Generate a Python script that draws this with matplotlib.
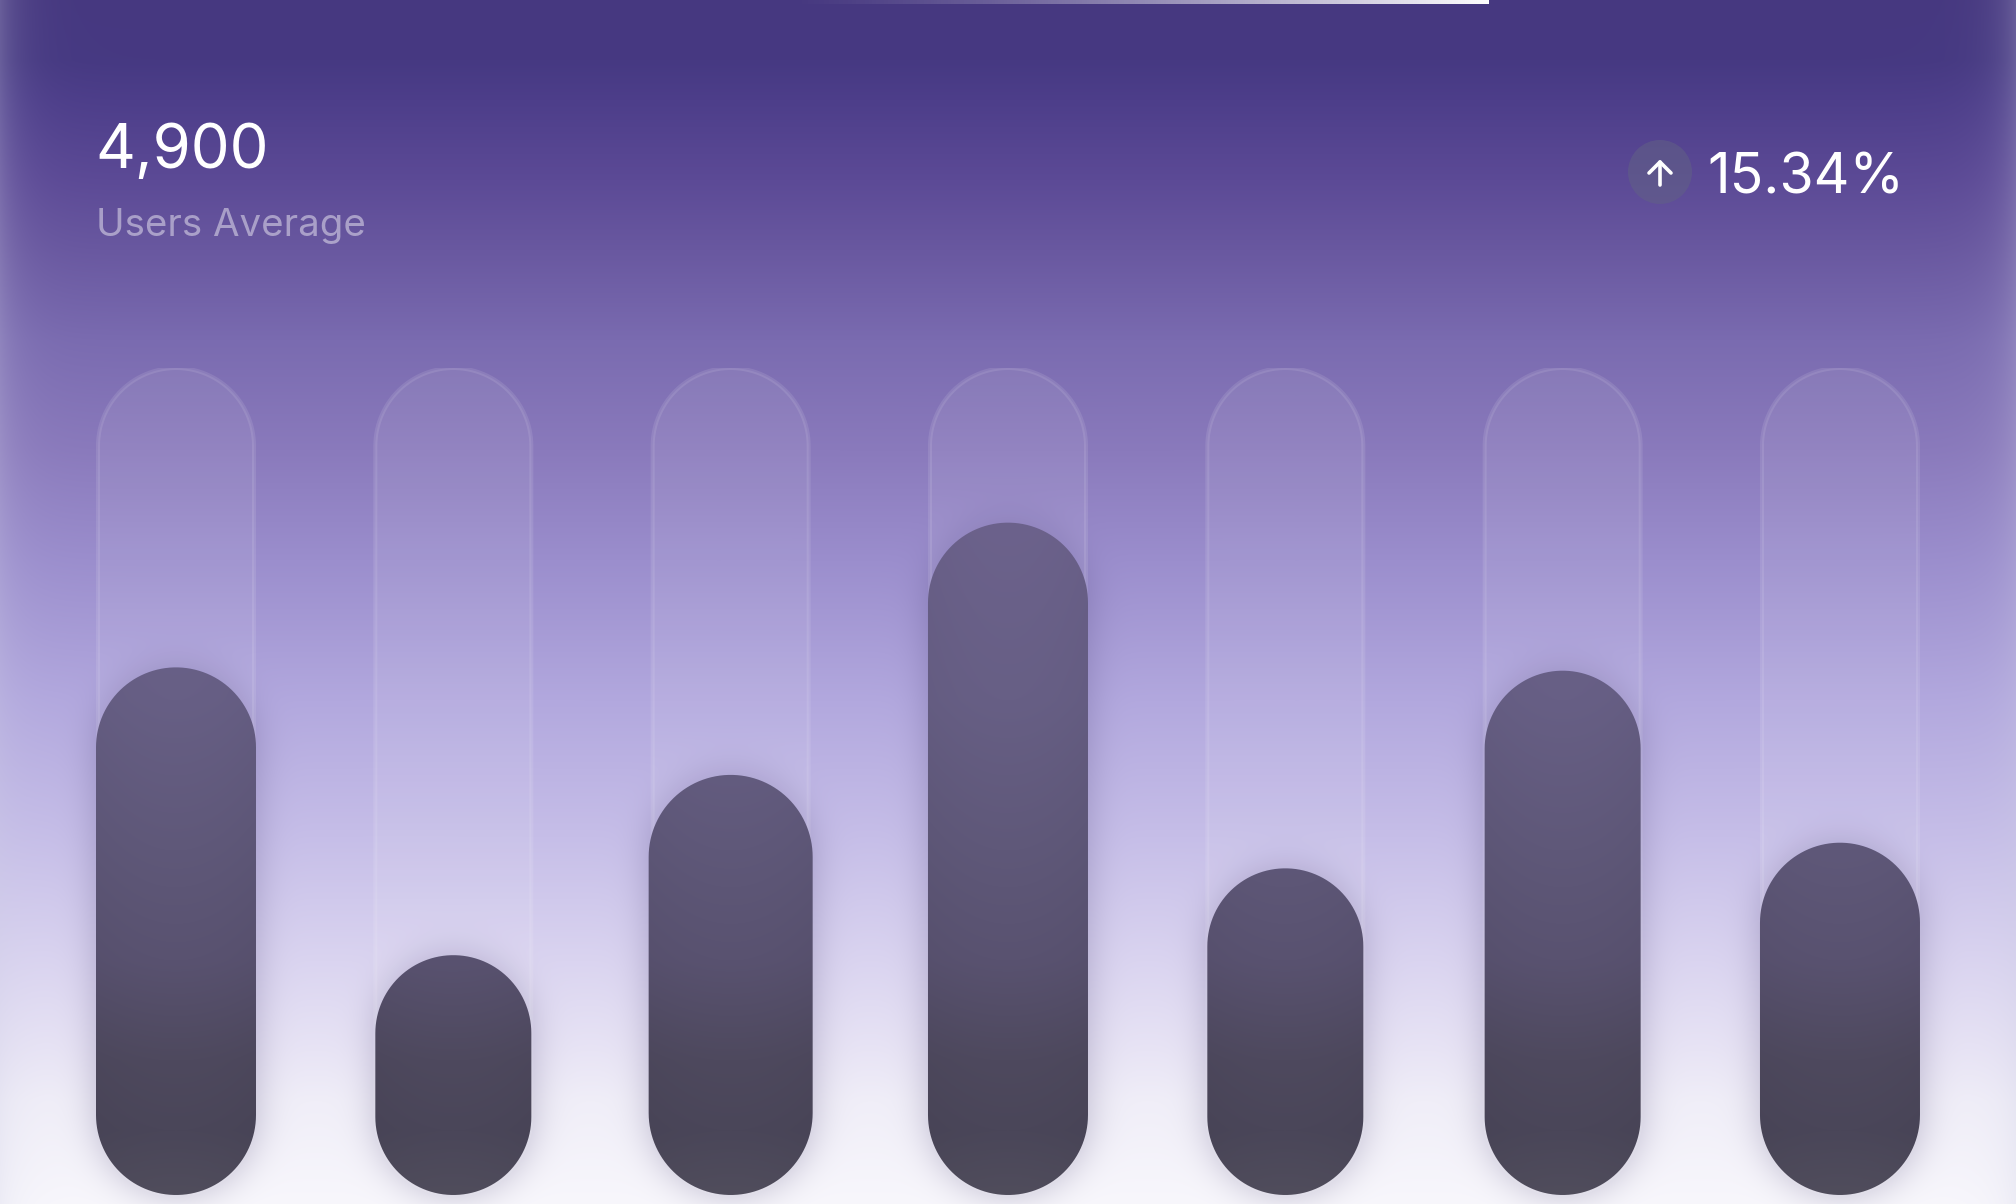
import numpy as np
import matplotlib
matplotlib.use('Agg')
import matplotlib.pyplot as plt
from matplotlib.patches import PathPatch, Circle
from matplotlib.path import Path

plt.rcParams['font.family'] = ['Inter', 'DejaVu Sans']

# the data
days = [0, 1, 2, 3, 4, 5, 6]
users_pct = [63.8, 29.0, 50.8, 81.3, 39.5, 63.4, 42.6]
track_pct = [100, 100, 100, 100, 100, 100, 100]
headline = '4,900'
headline_label = 'Users Average'
change_label = '15.34%'

# style, all in pixels of the 2016x1204 picture
W, H = 2016, 1204
bar_widths = [160, 156, 164, 160, 156, 156, 160]
track_width = 160
base_px, top_px = 1195, 368
first_center, pitch = 176, 277.33

bg_y = [0, 60, 100, 180, 250, 340, 450, 560, 700, 836, 960, 1050, 1100, 1204]
bg_r = [70, 70, 77, 92, 105, 122, 138, 155, 178, 198, 218, 232, 240, 248]
bg_g = [56, 57, 62, 74, 88, 107, 122, 142, 168, 190, 212, 228, 238, 247]
bg_b = [128, 130, 138, 150, 160, 176, 188, 205, 222, 232, 240, 245, 248, 252]

bar_y = [520, 700, 850, 960, 1060, 1130, 1195]
bar_r = [108, 103, 95, 89, 78, 74, 80]
bar_g = [98, 95, 88, 82, 73, 70, 77]
bar_b = [140, 133, 121, 112, 94, 89, 92]


def blur(a, sigma):
    # gaussian blur through fft, no scipy here
    pad = 120
    p = np.pad(a, pad)
    fy = np.fft.fftfreq(p.shape[0])[:, None]
    fx = np.fft.rfftfreq(p.shape[1])[None, :]
    g = np.exp(-2 * (np.pi * sigma) ** 2 * (fx ** 2 + fy ** 2))
    out = np.fft.irfft2(np.fft.rfft2(p) * g, s=p.shape)
    return out[pad:-pad, pad:-pad]


fig = plt.figure(figsize=(W / 100, H / 100), dpi=100)

# pixel axes for the backdrop and the header
bg = fig.add_axes([0, 0, 1, 1], zorder=0)
bg.set_xlim(0, W)
bg.set_ylim(H, 0)
bg.axis('off')

# chart axes, x in day index and y in percent
ax = fig.add_axes([0, (H - base_px) / H, 1, (base_px - top_px) / H], zorder=1)
ax.set_xlim(-first_center / pitch, (W - first_center) / pitch)
ax.set_ylim(0, 100)
ax.axis('off')
ax.patch.set_alpha(0)

ky = (base_px - top_px) / 100


def pill(day, value, width_px):
    # capsule outline in data coordinates
    rx = width_px / 2 / pitch
    ry = width_px / 2 / ky
    t = np.linspace(0, np.pi, 60)
    xs = np.concatenate([day + rx * np.cos(t), day - rx * np.cos(t), [day + rx]])
    ys = np.concatenate([value - ry + ry * np.sin(t), ry - ry * np.sin(t), [value - ry]])
    return Path(np.column_stack([xs, ys]), closed=True)


# backdrop
yy = np.arange(H)
xx = np.arange(W)
rgb = np.stack([np.interp(yy, bg_y, c) for c in (bg_r, bg_g, bg_b)], axis=1)[:, None, :]
rgb = np.repeat(rgb, W, axis=1)

# soft light on the left and right side
d = np.minimum(xx, W - 1 - xx)
edge = (0.25 * np.exp(-d / 20.0))[None, :, None]
rgb = rgb * (1 - edge) + np.array([205, 205, 228]) * edge

# halo around the bars
X, Y = np.meshgrid(xx, yy)
mask = np.zeros((H, W))
for day, v, bw in zip(days, users_pct, bar_widths):
    cx, top = ax.transData.transform((day, v))
    top = H - top
    r = bw / 2
    cy = np.clip(Y, top + r, base_px - r)
    mask = np.maximum(mask, (np.hypot(X - cx, Y - cy) <= r).astype(float))
halo = (np.clip(blur(mask, 18), 0, 1) * 0.30)[:, :, None]
rgb = rgb * (1 - halo) + np.array([62, 52, 104]) * halo

bg.imshow(rgb / 255, extent=(0, W, H, 0), aspect='auto', interpolation='bilinear')
bg.set_xlim(0, W)
bg.set_ylim(H, 0)

# thin light strip on the top edge
strip = np.zeros((1, 400, 4))
strip[..., :3] = 1
strip[..., 3] = np.linspace(0, 1, 400) ** 1.3
bg.imshow(strip, extent=(784, 1489, 4, 0), aspect='auto')
bg.set_xlim(0, W)
bg.set_ylim(H, 0)

# tracks behind the bars
for day, v in zip(days, track_pct):
    ax.add_patch(PathPatch(pill(day, v, track_width - 4), facecolor=(1, 1, 1, 0.08),
                           edgecolor=(1, 1, 1, 0.10), lw=2.9, zorder=1))

# bars, same colour ramp for each and cut to the pill
ramp = np.stack([np.interp(yy, bar_y, c) for c in (bar_r, bar_g, bar_b)], axis=1)[:, None, :] / 255
y_ext = ax.get_ylim()
for day, v, bw in zip(days, users_pct, bar_widths):
    patch = PathPatch(pill(day, v, bw), facecolor='none', edgecolor='none', zorder=2)
    ax.add_patch(patch)
    # image a bit wider than the pill so the clip path makes the edge
    rx = (bw / 2 + 4) / pitch
    # slightly darker to the sides
    side = 1 - 0.03 * np.linspace(-1, 1, 80) ** 2
    data_top = base_px / ky
    img = ramp * side[None, :, None]
    im = ax.imshow(img, extent=(day - rx, day + rx, (base_px - H) / ky, data_top),
                   aspect='auto', origin='upper', interpolation='bilinear', zorder=3)
    im.set_clip_path(patch)
ax.set_xlim(-first_center / pitch, (W - first_center) / pitch)
ax.set_ylim(*y_ext)

# header
bg.text(95.5, 168, headline, color='white', fontsize=44.5, ha='left', va='baseline')
bg.text(96, 236, headline_label, color=(1, 1, 1, 0.45), fontsize=27.7, ha='left', va='baseline')
bg.text(1707, 194, change_label, color='white', fontsize=40, ha='left', va='baseline')

bg.add_patch(Circle((1660, 172), 32, facecolor=(0.38, 0.38, 0.52, 0.55), edgecolor='none'))
bg.plot([1660, 1660], [162, 185], color='white', lw=2.6, solid_capstyle='round')
bg.plot([1649, 1660, 1671], [173, 162, 173], color='white', lw=2.6,
        solid_capstyle='round', solid_joinstyle='round')

fig.savefig('out.png', dpi=100)
